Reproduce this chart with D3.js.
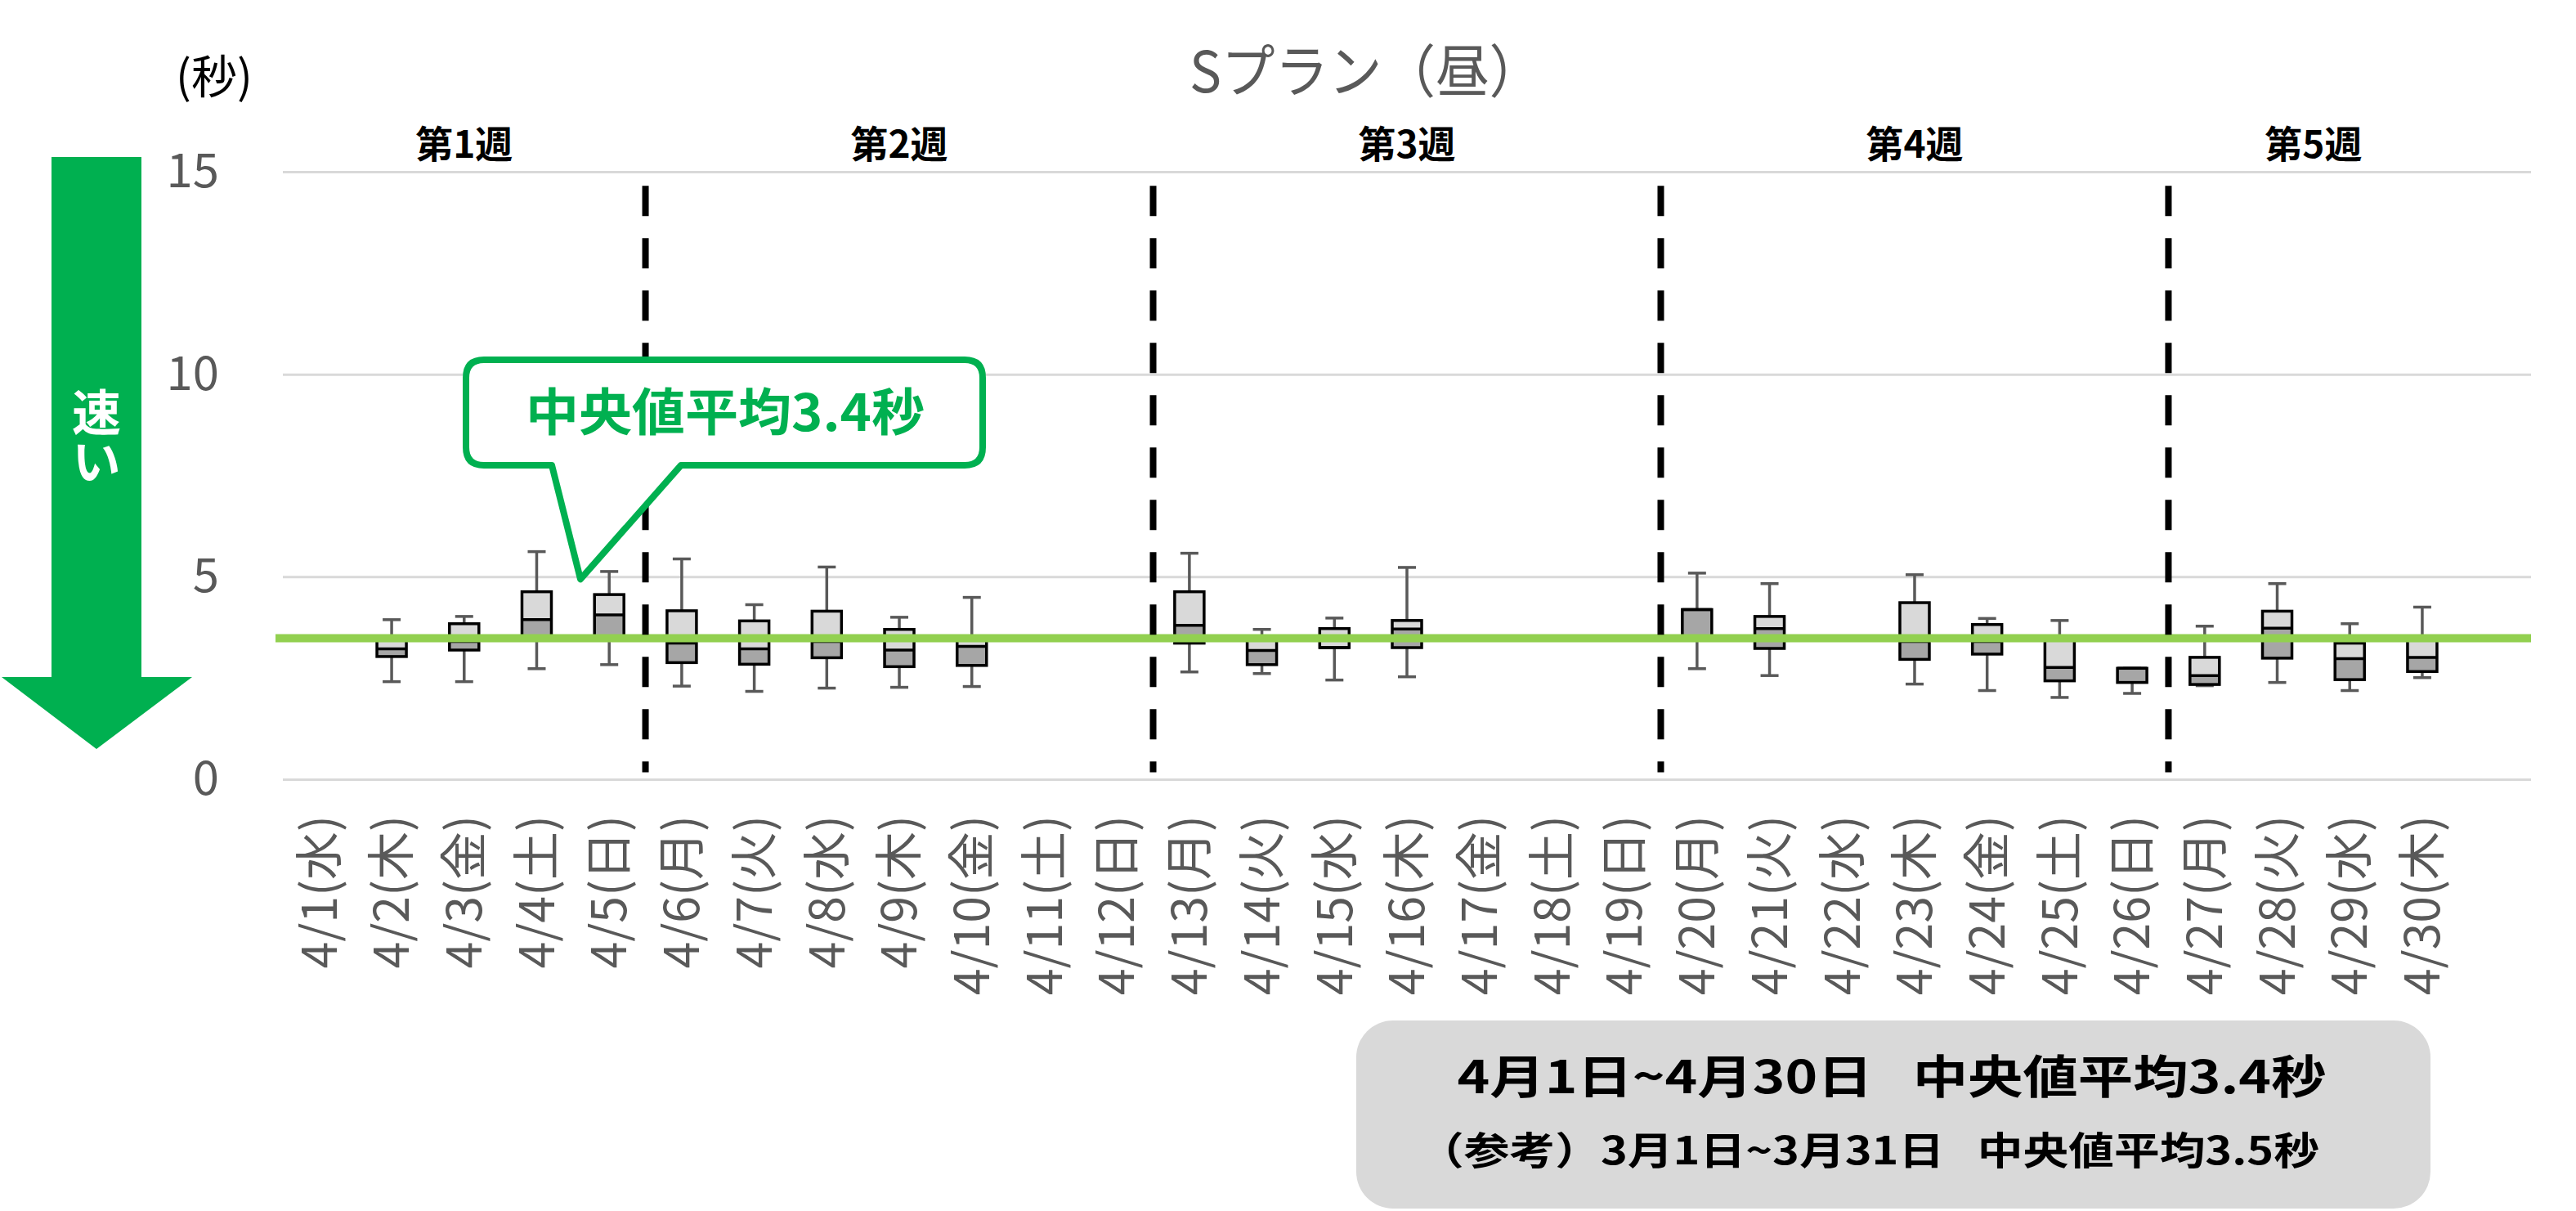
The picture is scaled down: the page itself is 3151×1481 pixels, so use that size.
<!DOCTYPE html>
<html>
<head>
<meta charset="utf-8">
<script src="https://cdn.jsdelivr.net/npm/d3@7"></script>
<style>
  html, body { margin: 0; padding: 0; background: #fff; }
  svg { display: block; font-family: "Noto Sans CJK JP", "Noto Sans", sans-serif; }
</style>
</head>
<body>
<div id="chart"></div>
<script>
// 日付ラベル（最後の1枠は空き）
const days = ["4/1(水)", "4/2(木)", "4/3(金)", "4/4(土)", "4/5(日)", "4/6(月)", "4/7(火)",
  "4/8(水)", "4/9(木)", "4/10(金)", "4/11(土)", "4/12(日)", "4/13(月)", "4/14(火)",
  "4/15(水)", "4/16(木)", "4/17(金)", "4/18(土)", "4/19(日)", "4/20(月)", "4/21(火)",
  "4/22(水)", "4/23(木)", "4/24(金)", "4/25(土)", "4/26(日)", "4/27(月)", "4/28(火)",
  "4/29(水)", "4/30(木)", ""];

// 箱ひげ図の値（秒）、null = データなし
const whiskerMin = [null, 2.41, 2.41, 2.73, 2.83, 2.30, 2.17, 2.25, 2.27, 2.29, null, null,
  2.65, 2.61, 2.45, 2.53, null, null, null, 2.73, 2.56, null, 2.35, 2.19, 2.02, 2.12,
  2.31, 2.39, 2.19, 2.51, null];
const q1 = [null, 3.03, 3.19, 3.43, 3.43, 2.88, 2.84, 3.00, 2.78, 2.81, null, null,
  3.36, 2.83, 3.25, 3.25, null, null, null, 3.43, 3.23, null, 2.96, 3.09, 2.43, 2.39,
  2.34, 2.99, 2.46, 2.66, null];
const median = [null, 3.22, 3.40, 3.94, 4.06, 3.36, 3.22, 3.40, 3.19, 3.28, null, null,
  3.80, 3.18, 3.25, 3.71, null, null, null, 4.19, 3.72, null, 3.40, 3.40, 2.76, 2.74,
  2.56, 3.73, 2.98, 3.01, null];
const q3 = [null, 3.45, 3.84, 4.63, 4.56, 4.16, 3.91, 4.15, 3.70, 3.45, null, null,
  4.63, 3.45, 3.72, 3.92, null, null, null, 4.19, 4.02, null, 4.36, 3.82, 3.45, 2.74,
  3.01, 4.15, 3.36, 3.43, null];
const whiskerMax = [null, 3.94, 4.02, 5.62, 5.13, 5.44, 4.31, 5.24, 4.00, 4.49, null, null,
  5.58, 3.70, 3.98, 5.23, null, null, null, 5.09, 4.83, null, 5.05, 3.97, 3.92, 2.74,
  3.78, 4.83, 3.84, 4.25, null];

const yTicks = [0, 5, 10, 15];
const avgLine = 3.48;

const weeks = [
  { label: "第1週", from: "4/1(水)", to: "4/5(日)" },
  { label: "第2週", from: "4/6(月)", to: "4/12(日)" },
  { label: "第3週", from: "4/13(月)", to: "4/19(日)" },
  { label: "第4週", from: "4/20(月)", to: "4/26(日)" },
  { label: "第5週", from: "4/27(月)", to: "4/30(木)" }
];

const W = 3151, H = 1481;
const margin = { top: 210, right: 55, bottom: 528, left: 346 };

const svg = d3.select("#chart").append("svg")
  .attr("width", W)
  .attr("height", H);

const x = d3.scaleBand().domain(days).range([margin.left, W - margin.right]).padding(0);
const y = d3.scaleLinear().domain([0, 15]).range([H - margin.bottom, margin.top]);
const cx = d => x(d) + x.bandwidth() / 2;

// グリッド線 + Y軸ラベル
const yAxis = svg.append("g")
  .attr("transform", `translate(${margin.left},0)`)
  .call(d3.axisLeft(y).tickValues(yTicks)
    .tickSize(-(W - margin.right - margin.left))
    .tickPadding(78));
yAxis.select(".domain").remove();
yAxis.selectAll(".tick line").attr("stroke", "#d9d9d9").attr("stroke-width", 3);
yAxis.selectAll(".tick text")
  .style("font-size", "58px")
  .style("font-family", "'Noto Sans CJK JP'")
  .attr("fill", "#595959");

// X軸ラベル（縦書き回転）
const xAxis = svg.append("g")
  .attr("transform", `translate(0,${y(0)})`)
  .call(d3.axisBottom(x).tickSize(0));
xAxis.select(".domain").remove();
xAxis.selectAll(".tick text")
  .attr("transform", "rotate(-90)")
  .attr("x", -44)
  .attr("y", 0)
  .attr("dy", "0.36em")
  .attr("text-anchor", "end")
  .style("font-size", "59px")
  .style("font-family", "'Noto Sans CJK JP'")
  .attr("fill", "#595959");

// 箱ひげ図
const boxW = 36, capW = 22;
const boxes = svg.append("g");
days.forEach((d, i) => {
  if (median[i] == null) return;
  const g = boxes.append("g");
  const c = cx(d);
  g.append("line").attr("x1", c).attr("x2", c)
    .attr("y1", y(q3[i])).attr("y2", y(whiskerMax[i]))
    .attr("stroke", "#595959").attr("stroke-width", 3.5);
  g.append("line").attr("x1", c).attr("x2", c)
    .attr("y1", y(q1[i])).attr("y2", y(whiskerMin[i]))
    .attr("stroke", "#595959").attr("stroke-width", 3.5);
  [whiskerMax[i], whiskerMin[i]].forEach(v => {
    g.append("line").attr("x1", c - capW / 2).attr("x2", c + capW / 2)
      .attr("y1", y(v)).attr("y2", y(v))
      .attr("stroke", "#595959").attr("stroke-width", 3.5);
  });
  g.append("rect")
    .attr("x", c - boxW / 2).attr("width", boxW)
    .attr("y", y(median[i])).attr("height", y(q1[i]) - y(median[i]))
    .attr("fill", "#a6a6a6");
  g.append("rect")
    .attr("x", c - boxW / 2).attr("width", boxW)
    .attr("y", y(q3[i])).attr("height", y(median[i]) - y(q3[i]))
    .attr("fill", "#d9d9d9");
  g.append("rect")
    .attr("x", c - boxW / 2).attr("width", boxW)
    .attr("y", y(q3[i])).attr("height", y(q1[i]) - y(q3[i]))
    .attr("fill", "none").attr("stroke", "#000").attr("stroke-width", 3.5);
  g.append("line").attr("x1", c - boxW / 2).attr("x2", c + boxW / 2)
    .attr("y1", y(median[i])).attr("y2", y(median[i]))
    .attr("stroke", "#000").attr("stroke-width", 3.5);
});

// 中央値平均の線
svg.append("line")
  .attr("x1", margin.left - 9).attr("x2", W - margin.right)
  .attr("y1", y(avgLine)).attr("y2", y(avgLine))
  .attr("stroke", "#92d050").attr("stroke-width", 10);

// 週の区切り（破線）
weeks.slice(1).forEach(w => {
  svg.append("line")
    .attr("x1", x(w.from)).attr("x2", x(w.from))
    .attr("y1", y(14.65)).attr("y2", y(0.17))
    .attr("stroke", "#000").attr("stroke-width", 8)
    .attr("stroke-dasharray", "37 27");
});

// 週ラベル
svg.append("g").selectAll("text")
  .data(weeks)
  .join("text")
  .attr("x", w => (cx(w.from) + cx(w.to)) / 2)
  .attr("y", 177)
  .attr("dy", "0.35em")
  .attr("text-anchor", "middle")
  .style("font-size", "46px")
  .style("font-weight", "bold")
  .attr("fill", "#000")
  .text(w => w.label);

// タイトル
svg.append("text")
  .attr("x", 1455).attr("y", 88).attr("dy", "0.36em")
  .attr("text-anchor", "start")
  .attr("textLength", 432).attr("lengthAdjust", "spacingAndGlyphs")
  .style("font-size", "70px")
  .attr("fill", "#595959")
  .text("Sプラン（昼）");

// 単位
svg.append("text")
  .attr("x", 262).attr("y", 94).attr("dy", "0.36em")
  .attr("text-anchor", "middle")
  .style("font-size", "56px")
  .attr("fill", "#000")
  .text("(秒)");

// 「速い」矢印
const arrowTop = 192, arrowHeadY = 828, arrowTip = 916;
svg.append("path")
  .attr("d", `M63,${arrowTop}H173V${arrowHeadY}H235L118,${arrowTip}L2,${arrowHeadY}H63Z`)
  .attr("fill", "#00b050");
svg.append("text")
  .attr("x", 118).attr("y", 534)
  .attr("writing-mode", "vertical-rl")
  .attr("text-anchor", "middle")
  .style("font-size", "60px")
  .style("font-weight", "bold")
  .attr("fill", "#fff")
  .text("速い");

// 吹き出し
const cb = { x0: 570, x1: 1202, y0: 440, y1: 569, r: 22 };
const tipX = 710, tipY = y(5) + 3;
svg.append("path")
  .attr("d", `M${cb.x0 + cb.r},${cb.y0}H${cb.x1 - cb.r}Q${cb.x1},${cb.y0} ${cb.x1},${cb.y0 + cb.r}` +
    `V${cb.y1 - cb.r}Q${cb.x1},${cb.y1} ${cb.x1 - cb.r},${cb.y1}H833L${tipX},${tipY}L675,${cb.y1}` +
    `H${cb.x0 + cb.r}Q${cb.x0},${cb.y1} ${cb.x0},${cb.y1 - cb.r}V${cb.y0 + cb.r}Q${cb.x0},${cb.y0} ${cb.x0 + cb.r},${cb.y0}Z`)
  .attr("fill", "#fff")
  .attr("stroke", "#00b050")
  .attr("stroke-width", 8)
  .attr("stroke-linejoin", "round");
svg.append("text")
  .attr("x", 887).attr("y", 505).attr("dy", "0.36em")
  .attr("text-anchor", "middle")
  .attr("textLength", 488).attr("lengthAdjust", "spacingAndGlyphs")
  .style("font-size", "62px")
  .style("font-weight", "bold")
  .attr("fill", "#00b050")
  .text("中央値平均3.4秒");

// 期間まとめ
svg.append("rect")
  .attr("x", 1659).attr("y", 1248)
  .attr("width", 1314).attr("height", 230)
  .attr("rx", 45)
  .attr("fill", "#d9d9d9");
svg.append("text")
  .attr("x", 2314).attr("y", 1317).attr("dy", "0.36em")
  .attr("text-anchor", "middle")
  .attr("textLength", 1063).attr("lengthAdjust", "spacingAndGlyphs")
  .style("font-size", "56px")
  .style("font-weight", "bold")
  .attr("fill", "#000")
  .text("4月1日~4月30日\u2002 中央値平均3.4秒");
svg.append("text")
  .attr("x", 2286).attr("y", 1407).attr("dy", "0.36em")
  .attr("text-anchor", "middle")
  .attr("textLength", 1102).attr("lengthAdjust", "spacingAndGlyphs")
  .style("font-size", "47px")
  .style("font-weight", "bold")
  .attr("fill", "#000")
  .text("（参考）3月1日~3月31日\u2002 中央値平均3.5秒");
</script>
</body>
</html>
